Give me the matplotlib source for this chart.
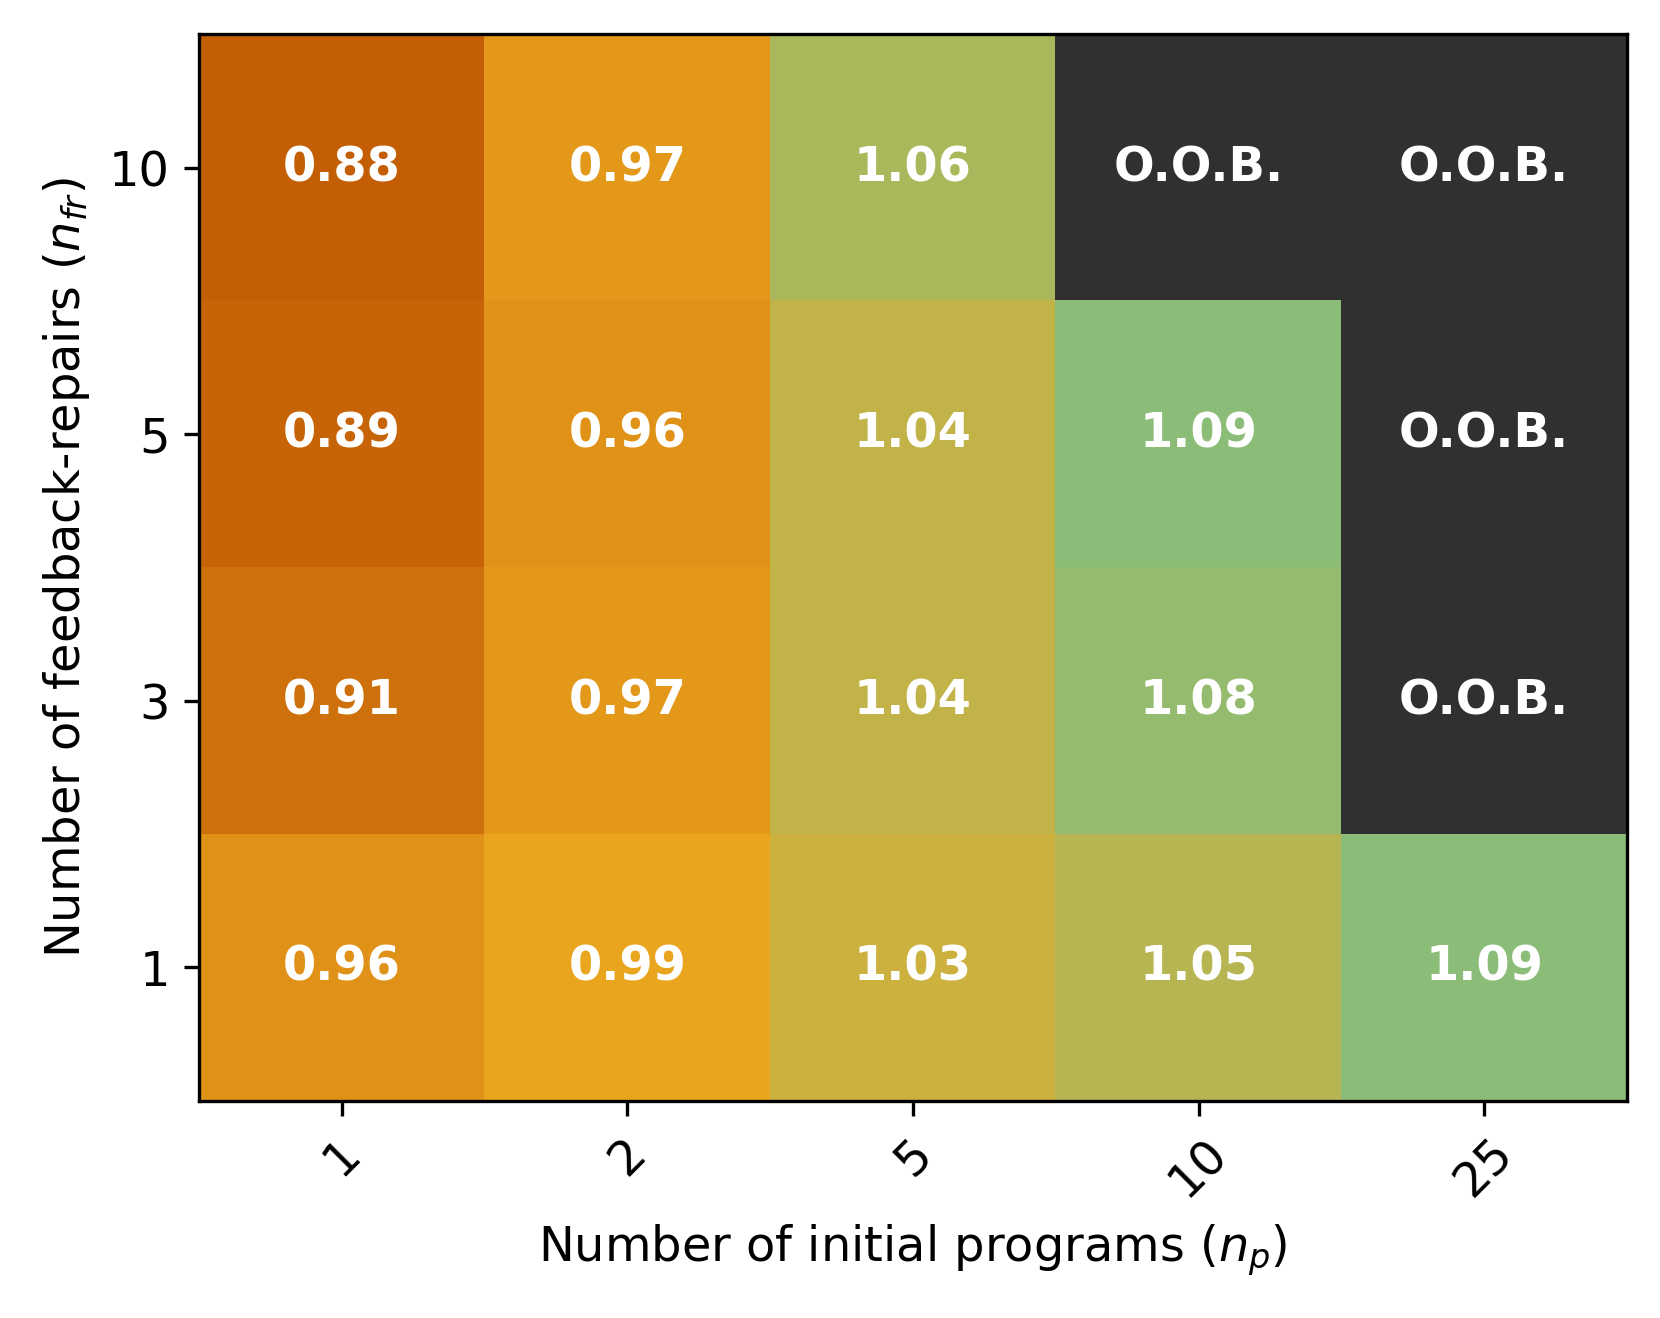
import numpy as np
import matplotlib.pyplot as plt
from matplotlib.colors import LinearSegmentedColormap, Normalize

# rows: feedback-repairs (top to bottom), columns: initial programs
n_fr = ["10", "5", "3", "1"]
n_p = ["1", "2", "5", "10", "25"]

# nan = out of budget (O.O.B.)
row_10 = [0.88, 0.97, 1.06, np.nan, np.nan]
row_5 = [0.89, 0.96, 1.04, 1.09, np.nan]
row_3 = [0.91, 0.97, 1.04, 1.08, np.nan]
row_1 = [0.96, 0.99, 1.03, 1.05, 1.09]

data = np.array([row_10, row_5, row_3, row_1])

vmin, vcenter, vmax = 0.88, 1.00, 1.09
pos = (vcenter - vmin) / (vmax - vmin)
cmap = LinearSegmentedColormap.from_list(
    "orange_green",
    [(0.0, "#c45e05"), (pos, "#eeac22"), (1.0, "#8bbd78")],
)
cmap.set_bad("#303030")

fs = 11.5
fig = plt.figure(figsize=(1660 / 300, 1318 / 300), dpi=300)
ax = fig.add_axes([0.120, 0.165, 0.860, 0.809])

masked = np.ma.masked_invalid(data)
ax.imshow(masked, cmap=cmap, norm=Normalize(vmin, vmax), aspect="auto")

for i in range(data.shape[0]):
    for j in range(data.shape[1]):
        v = data[i, j]
        label = "O.O.B." if np.isnan(v) else f"{v:.2f}"
        ax.text(j, i, label, ha="center", va="center", color="white",
                fontsize=fs, fontweight="bold")

ax.set_xticks(range(len(n_p)))
ax.set_xticklabels(n_p, rotation=45, fontsize=fs)
ax.set_yticks(range(len(n_fr)))
ax.set_yticklabels(n_fr, fontsize=fs)
ax.set_xlabel(r"Number of initial programs ($n_p$)", fontsize=fs)
ax.set_ylabel(r"Number of feedback-repairs ($n_{fr}$)", fontsize=fs)

fig.savefig("out.png", dpi=300)
